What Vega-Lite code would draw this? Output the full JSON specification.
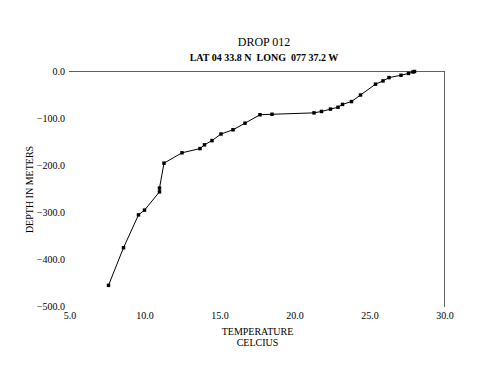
{
  "$schema": "https://vega.github.io/schema/vega-lite/v6.json",
  "autosize": "none",
  "padding": {"left": 69.5, "top": 71.5, "right": 55.5, "bottom": 79.5},
  "width": 375,
  "height": 235,
  "background": "white",
  "title": {
    "text": "DROP 012",
    "subtitle": "\u00a0\u00a0\u00a0\u00a0\u00a0\u00a0LAT 04 33.8 N\u00a0 LONG\u00a0 077 37.2 W",
    "anchor": "middle",
    "dx": 7,
    "offset": 3,
    "font": "Liberation Serif",
    "fontSize": 12,
    "fontWeight": "normal",
    "color": "black",
    "subtitleFont": "Liberation Serif",
    "subtitleFontSize": 10,
    "subtitleFontWeight": "bold",
    "subtitleColor": "black",
    "subtitlePadding": 4
  },
  "config": {
    "view": {"stroke": null},
    "axis": {
      "domain": false,
      "ticks": false,
      "tickSize": 0,
      "grid": false,
      "labelFlush": false,
      "labelOverlap": false,
      "labelFont": "Liberation Serif",
      "labelFontSize": 10,
      "labelColor": "black",
      "titleFont": "Liberation Serif",
      "titleFontSize": 10,
      "titleFontWeight": "normal",
      "titleColor": "black"
    }
  },
  "data": {
    "values": [
      {"temp": 28.0, "depth": 0},
      {"temp": 27.9, "depth": -1},
      {"temp": 27.6, "depth": -4},
      {"temp": 27.1, "depth": -8},
      {"temp": 26.3, "depth": -13},
      {"temp": 25.9, "depth": -20},
      {"temp": 25.4, "depth": -27},
      {"temp": 24.4, "depth": -50},
      {"temp": 23.8, "depth": -64},
      {"temp": 23.2, "depth": -70},
      {"temp": 22.9, "depth": -76},
      {"temp": 22.4, "depth": -80},
      {"temp": 21.8, "depth": -85},
      {"temp": 21.3, "depth": -88},
      {"temp": 18.5, "depth": -91},
      {"temp": 17.7, "depth": -92},
      {"temp": 16.7, "depth": -110},
      {"temp": 15.9, "depth": -124},
      {"temp": 15.1, "depth": -133},
      {"temp": 14.5, "depth": -147},
      {"temp": 14.0, "depth": -156},
      {"temp": 13.7, "depth": -164},
      {"temp": 12.5, "depth": -173},
      {"temp": 11.3, "depth": -195},
      {"temp": 11.0, "depth": -248},
      {"temp": 11.0, "depth": -256},
      {"temp": 10.0, "depth": -295},
      {"temp": 9.6, "depth": -305},
      {"temp": 8.6, "depth": -375},
      {"temp": 7.6, "depth": -455}
    ]
  },
  "encoding": {
    "x": {
      "field": "temp",
      "type": "quantitative",
      "scale": {"domain": [5, 30], "nice": false, "zero": false},
      "axis": {
        "values": [5, 10, 15, 20, 25, 30],
        "format": ".1f",
        "labelPadding": 4,
        "title": ["TEMPERATURE", "CELCIUS"],
        "titlePadding": 6,
        "titleLineHeight": 11
      }
    },
    "y": {
      "field": "depth",
      "type": "quantitative",
      "scale": {"domain": [-500, 0], "nice": false},
      "axis": {
        "values": [0, -100, -200, -300, -400, -500],
        "format": ".1f",
        "labelPadding": 5,
        "title": "DEPTH IN METERS",
        "titlePadding": 2
      }
    }
  },
  "layer": [
    {
      "mark": {"type": "rule", "color": "#606060", "strokeWidth": 1},
      "encoding": {"y": {"datum": 0, "type": "quantitative"}, "x": null}
    },
    {
      "mark": {"type": "rule", "color": "#606060", "strokeWidth": 1},
      "encoding": {"x": {"datum": 30, "type": "quantitative"}, "y": null}
    },
    {
      "mark": {"type": "line", "color": "black", "strokeWidth": 1},
      "encoding": {"order": {"field": "depth", "type": "quantitative"}}
    },
    {
      "mark": {"type": "point", "shape": "square", "filled": true, "color": "black", "size": 12, "opacity": 1}
    }
  ]
}
